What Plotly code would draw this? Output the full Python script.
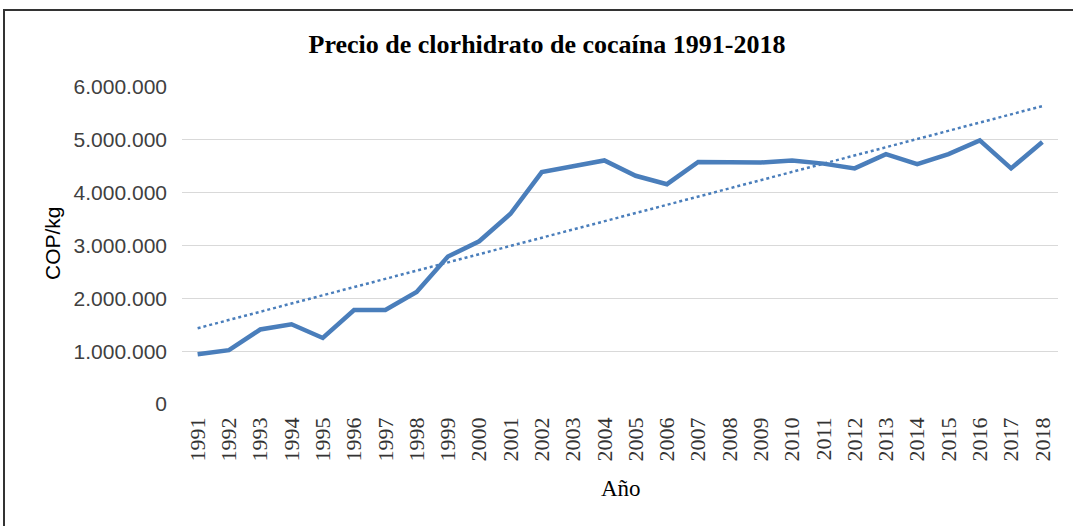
import numpy as np
import plotly.graph_objects as go

years = [str(y) for y in range(1991, 2019)]
price = [0.94e6, 1.02e6, 1.41e6, 1.51e6, 1.25e6, 1.78e6, 1.78e6, 2.12e6, 2.79e6, 3.08e6,
         3.60e6, 4.39e6, 4.50e6, 4.61e6, 4.32e6, 4.16e6, 4.58e6, 4.58e6, 4.57e6, 4.61e6,
         4.55e6, 4.46e6, 4.73e6, 4.54e6, 4.73e6, 4.99e6, 4.46e6, 4.96e6]
ytick_vals = [0, 1e6, 2e6, 3e6, 4e6, 5e6, 6e6]
ytick_text = ["0", "1.000.000", "2.000.000", "3.000.000", "4.000.000", "5.000.000", "6.000.000"]

# Linear trend (as Excel trendline)
idx = np.arange(1, len(price) + 1)
slope, intercept = np.polyfit(idx, price, 1)
trend = slope * idx + intercept

W, H = 1073, 526
L, R, T, B = 182, 15, 87, 122
pw, ph = W - L - R, H - T - B

def px(x):
    return (x - L) / pw

def py(y):
    return (H - B - y) / ph

blue = "#4A7EBB"
fig = go.Figure()
fig.add_trace(go.Scatter(x=years, y=trend, mode="lines",
                         line=dict(color=blue, width=2.5, dash="dot"),
                         hoverinfo="skip", showlegend=False))
fig.add_trace(go.Scatter(x=years, y=price, mode="lines",
                         line=dict(color=blue, width=4.5),
                         showlegend=False))

fig.update_layout(
    width=W, height=H,
    margin=dict(l=L, r=R, t=T, b=B),
    paper_bgcolor="white", plot_bgcolor="white",
    title=dict(text="<b>Precio de clorhidrato de cocaína 1991-2018</b>",
               font=dict(family="Liberation Serif, Times New Roman, serif", size=26, color="#000000"),
               x=547 / W, xanchor="center", y=1 - 44 / H, yanchor="middle",
               xref="container", yref="container"),
    xaxis=dict(type="category", range=[-0.5, 27.5], showgrid=False, showline=False,
               zeroline=False, tickangle=-90, ticks="", ticklabelstandoff=8,
               tickfont=dict(family="Liberation Serif, Times New Roman, serif", size=22, color="#333333")),
    yaxis=dict(range=[0, 6e6], tickvals=ytick_vals, ticktext=ytick_text,
               showgrid=True, gridcolor="#D9D9D9", gridwidth=1, zeroline=False,
               showline=False, ticks="", ticklabelstandoff=14,
               tickfont=dict(family="Liberation Sans, Arial, sans-serif", size=21, color="#404040")),
    annotations=[
        dict(text="COP/kg", xref="paper", yref="paper", x=px(52), y=py(243),
             xanchor="center", yanchor="middle", textangle=-90, showarrow=False,
             font=dict(family="Liberation Sans, Arial, sans-serif", size=21, color="#000000")),
        dict(text="Año", xref="paper", yref="paper", x=px(621), y=py(488),
             xanchor="center", yanchor="middle", showarrow=False,
             font=dict(family="Liberation Serif, Times New Roman, serif", size=23, color="#000000")),
    ],
    shapes=[
        dict(type="rect", xref="paper", yref="paper", x0=px(4), y0=py(540), x1=px(1090), y1=py(10),
             line=dict(color="#333333", width=2), fillcolor="rgba(0,0,0,0)", layer="below"),
    ],
)

fig.write_html("out.html", config={"displayModeBar": False},
               post_script="document.body.style.margin='0';document.body.style.overflow='hidden';")
